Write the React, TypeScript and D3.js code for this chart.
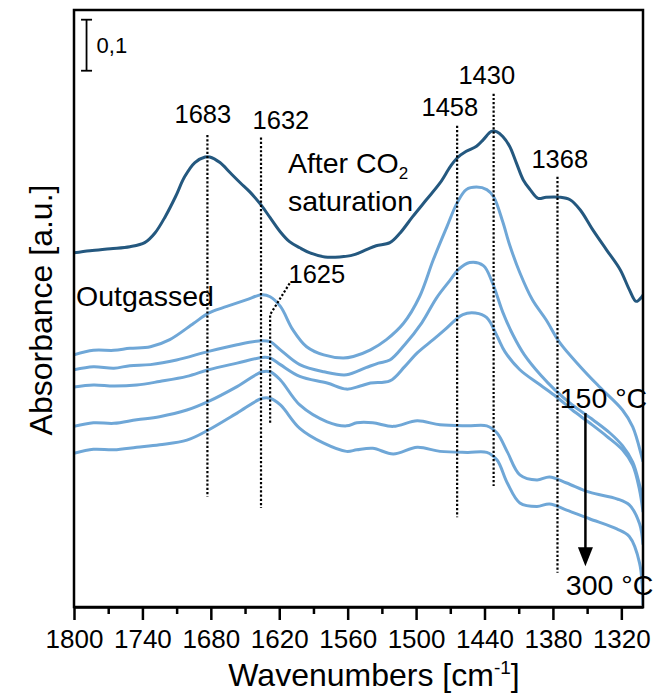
import React, { useEffect, useRef } from "react";
import * as d3 from "d3";

/* DATA: [wavenumber cm-1, absorbance a.u. (stacked offsets)] */
const afterCO2: [number, number][] = [
  [1800, 0.694], [1786, 0.698], [1768, 0.702], [1751, 0.706], [1738, 0.714], [1729, 0.733],
  [1720, 0.765], [1711, 0.804], [1703, 0.843], [1694, 0.871], [1685, 0.882], [1681, 0.882],
  [1672, 0.871], [1663, 0.851], [1654, 0.831], [1646, 0.814], [1636, 0.788], [1628, 0.763],
  [1619, 0.735], [1611, 0.716], [1602, 0.704], [1593, 0.694], [1580, 0.686], [1567, 0.686],
  [1555, 0.69], [1543, 0.701], [1535, 0.708], [1523, 0.714], [1514, 0.733], [1503, 0.765],
  [1491, 0.798], [1479, 0.831], [1470, 0.863], [1464, 0.88], [1456, 0.893], [1447, 0.903],
  [1441, 0.916], [1434, 0.932], [1429, 0.931], [1424, 0.922], [1418, 0.903], [1412, 0.87],
  [1406, 0.837], [1400, 0.818], [1393, 0.801], [1386, 0.803], [1374, 0.803], [1365, 0.798],
  [1356, 0.778], [1345, 0.739], [1333, 0.7], [1321, 0.661], [1313, 0.622], [1307, 0.599],
  [1302, 0.608], [1301, 0.612],
];

const outgassed: [number, number][] = [
  [1800, 0.494], [1783, 0.503], [1765, 0.503], [1751, 0.507], [1733, 0.51], [1716, 0.524],
  [1695, 0.556], [1682, 0.576], [1666, 0.589], [1649, 0.602], [1635, 0.612], [1628, 0.608],
  [1619, 0.589], [1608, 0.543], [1596, 0.51], [1581, 0.494], [1564, 0.488], [1555, 0.491],
  [1540, 0.504], [1526, 0.524], [1511, 0.556], [1497, 0.608], [1485, 0.68], [1473, 0.745],
  [1464, 0.792], [1456, 0.818], [1447, 0.823], [1438, 0.818], [1432, 0.804], [1424, 0.755],
  [1418, 0.71], [1409, 0.655], [1398, 0.602], [1386, 0.563], [1374, 0.518], [1356, 0.471],
  [1339, 0.431], [1319, 0.386], [1310, 0.353], [1302, 0.294], [1301, 0.285],
];

const t150: [number, number][] = [
  [1800, 0.465], [1783, 0.471], [1765, 0.468], [1751, 0.473], [1733, 0.475], [1710, 0.484],
  [1682, 0.501], [1657, 0.514], [1635, 0.522], [1628, 0.52], [1619, 0.504], [1602, 0.475],
  [1581, 0.461], [1561, 0.455], [1544, 0.469], [1533, 0.478], [1523, 0.484], [1510, 0.514],
  [1495, 0.557], [1482, 0.606], [1470, 0.641], [1463, 0.661], [1453, 0.675], [1441, 0.669],
  [1433, 0.635], [1424, 0.578], [1415, 0.533], [1405, 0.494], [1391, 0.455], [1378, 0.425],
  [1363, 0.396], [1345, 0.367], [1330, 0.341], [1319, 0.316], [1310, 0.284], [1304, 0.239],
  [1301, 0.21],
];

const t200: [number, number][] = [
  [1800, 0.431], [1783, 0.435], [1765, 0.433], [1745, 0.435], [1725, 0.442], [1701, 0.452],
  [1682, 0.465], [1657, 0.478], [1635, 0.489], [1628, 0.488], [1619, 0.475], [1602, 0.452],
  [1578, 0.439], [1561, 0.427], [1549, 0.433], [1540, 0.439], [1523, 0.443], [1510, 0.471],
  [1499, 0.498], [1485, 0.524], [1475, 0.543], [1459, 0.573], [1448, 0.576], [1438, 0.567],
  [1429, 0.531], [1422, 0.5], [1409, 0.465], [1391, 0.435], [1377, 0.412], [1363, 0.386],
  [1348, 0.361], [1333, 0.335], [1319, 0.308], [1310, 0.278], [1304, 0.229], [1301, 0.186],
];

const t250: [number, number][] = [
  [1800, 0.354], [1783, 0.361], [1765, 0.36], [1745, 0.367], [1725, 0.373], [1701, 0.386],
  [1682, 0.403], [1657, 0.432], [1635, 0.461], [1628, 0.461], [1619, 0.445], [1602, 0.396],
  [1578, 0.363], [1561, 0.355], [1552, 0.361], [1538, 0.361], [1520, 0.354], [1499, 0.365],
  [1479, 0.357], [1455, 0.355], [1438, 0.355], [1429, 0.341], [1420, 0.304], [1409, 0.259],
  [1394, 0.249], [1383, 0.255], [1368, 0.243], [1348, 0.225], [1324, 0.212], [1313, 0.2],
  [1304, 0.163], [1301, 0.122],
];

const t300: [number, number][] = [
  [1800, 0.301], [1783, 0.309], [1765, 0.308], [1745, 0.313], [1725, 0.318], [1701, 0.327],
  [1682, 0.347], [1657, 0.38], [1635, 0.409], [1628, 0.409], [1619, 0.396], [1602, 0.35],
  [1581, 0.321], [1561, 0.305], [1552, 0.308], [1538, 0.311], [1520, 0.3], [1499, 0.313],
  [1479, 0.305], [1455, 0.303], [1438, 0.303], [1429, 0.288], [1420, 0.243], [1409, 0.204],
  [1394, 0.197], [1383, 0.202], [1368, 0.19], [1348, 0.173], [1324, 0.153], [1313, 0.138],
  [1304, 0.086], [1301, 0.004],
];

const lightSeries = [outgassed, t150, t200, t250, t300];

const majorTicks = [1800, 1740, 1680, 1620, 1560, 1500, 1440, 1380, 1320];
const minorTicks = [1770, 1710, 1650, 1590, 1530, 1470, 1410, 1350];

/* band markers: label, line position, line top/bottom, label anchor */
const bandLabels = ["1683", "1632", "1458", "1430", "1368"];
const bandLineWn = [1683, 1636, 1464, 1432, 1376];
const bandLineTop = [0.925, 0.92, 0.943, 1.006, 0.843];
const bandLineBottom = [0.216, 0.194, 0.176, 0.237, 0.067];
const bandLabelWn = [1687, 1618.5, 1470.4, 1438, 1374];
const bandLabelAbs = [0.949, 0.937, 0.963, 1.025, 0.861];

// 1625 marker with bent leader
const leader1625: [number, number][] = [
  [1628, 0.361], [1628, 0.573], [1610.7, 0.635],
];

const FONT = "Arial, 'Liberation Sans', sans-serif";
const DARK = "#24587f";
const LIGHT = "#6fa7d7";

function SpectraChart() {
  const chartRef = useRef<SVGSVGElement>(null);

  useEffect(() => {
    const svg = d3.select(chartRef.current);
    svg.selectAll("*").remove();

    const x = d3.scaleLinear().domain([1800, 1301]).range([74, 643]);
    const y = d3.scaleLinear().domain([0, 1.17]).range([607, 10]);

    svg
      .append("defs")
      .append("clipPath")
      .attr("id", "plotClip")
      .append("rect")
      .attr("x", 74)
      .attr("y", 10)
      .attr("width", 569)
      .attr("height", 597);

    const line = d3
      .line<[number, number]>()
      .x((d) => x(d[0]))
      .y((d) => y(d[1]))
      .curve(d3.curveCatmullRom.alpha(0.5));

    const curves = svg.append("g").attr("clip-path", "url(#plotClip)");
    curves
      .selectAll("path.light")
      .data(lightSeries)
      .enter()
      .append("path")
      .attr("class", "light")
      .attr("d", (d) => line(d))
      .attr("fill", "none")
      .attr("stroke", LIGHT)
      .attr("stroke-width", 3);

    curves
      .append("path")
      .attr("d", line(afterCO2))
      .attr("fill", "none")
      .attr("stroke", DARK)
      .attr("stroke-width", 3);

    // dotted band markers
    const marks = svg.append("g");
    bandLineWn.forEach((wn, i) => {
      marks
        .append("line")
        .attr("x1", x(wn))
        .attr("x2", x(wn))
        .attr("y1", y(bandLineTop[i]))
        .attr("y2", y(bandLineBottom[i]))
        .attr("stroke", "#000")
        .attr("stroke-width", 2.2)
        .attr("stroke-dasharray", "2.2 2");
      marks
        .append("text")
        .attr("x", x(bandLabelWn[i]))
        .attr("y", y(bandLabelAbs[i]))
        .attr("text-anchor", "middle")
        .attr("font-family", FONT)
        .attr("font-size", 25.5)
        .text(bandLabels[i]);
    });

    marks
      .append("path")
      .attr("d", d3.line<[number, number]>().x((d) => x(d[0])).y((d) => y(d[1]))(leader1625))
      .attr("fill", "none")
      .attr("stroke", "#000")
      .attr("stroke-width", 2.2)
      .attr("stroke-dasharray", "2.2 2");
    marks
      .append("text")
      .attr("x", x(1587))
      .attr("y", y(0.635))
      .attr("text-anchor", "middle")
      .attr("font-family", FONT)
      .attr("font-size", 25.5)
      .text("1625");

    // text annotations
    const t1 = marks
      .append("text")
      .attr("x", x(1612.4))
      .attr("y", y(0.851))
      .attr("font-family", FONT)
      .attr("font-size", 28.5);
    t1.append("tspan").text("After CO");
    t1.append("tspan").attr("font-size", 17).attr("dy", 6).text("2");
    marks
      .append("text")
      .attr("x", x(1612.4))
      .attr("y", y(0.776))
      .attr("font-family", FONT)
      .attr("font-size", 28.5)
      .text("saturation");
    marks
      .append("text")
      .attr("x", x(1798.2))
      .attr("y", y(0.59))
      .attr("font-family", FONT)
      .attr("font-size", 28.5)
      .text("Outgassed");
    marks
      .append("text")
      .attr("x", x(1374))
      .attr("y", y(0.39))
      .attr("font-family", FONT)
      .attr("font-size", 28.5)
      .text("150 °C");
    marks
      .append("text")
      .attr("x", x(1368.7))
      .attr("y", y(0.0235))
      .attr("font-family", FONT)
      .attr("font-size", 28.5)
      .text("300 °C");

    // temperature arrow
    const ax = x(1351.5);
    const aTop = y(0.38);
    const aTip = y(0.08);
    marks
      .append("line")
      .attr("x1", ax)
      .attr("x2", ax)
      .attr("y1", aTop)
      .attr("y2", aTip - 14)
      .attr("stroke", "#000")
      .attr("stroke-width", 2.5);
    marks
      .append("path")
      .attr("d", `M${ax - 7.5},${aTip - 19} L${ax + 7.5},${aTip - 19} L${ax},${aTip} Z`)
      .attr("fill", "#000");

    // scale bar 0,1
    const sx = x(1789);
    const sTop = y(1.151);
    const sBot = y(1.151 - 0.1);
    const bar = svg.append("g").attr("stroke", "#000").attr("stroke-width", 1.8);
    bar.append("line").attr("x1", sx).attr("x2", sx).attr("y1", sTop).attr("y2", sBot);
    bar.append("line").attr("x1", sx - 5.5).attr("x2", sx + 5.5).attr("y1", sTop).attr("y2", sTop);
    bar.append("line").attr("x1", sx - 5.5).attr("x2", sx + 5.5).attr("y1", sBot).attr("y2", sBot);
    svg
      .append("text")
      .attr("x", sx + 10)
      .attr("y", (sTop + sBot) / 2 + 8)
      .attr("font-family", FONT)
      .attr("font-size", 22)
      .text("0,1");

    // x axis
    const xAxis = svg
      .append("g")
      .attr("transform", "translate(0,607)")
      .call(
        d3
          .axisBottom(x)
          .tickValues(majorTicks)
          .tickSize(13)
          .tickSizeOuter(0)
          .tickPadding(10)
          .tickFormat(d3.format("d"))
      );
    xAxis.selectAll("path, line").attr("stroke", "#000").attr("stroke-width", 2.5);
    xAxis
      .selectAll("text")
      .attr("font-family", FONT)
      .attr("font-size", 26)
      .attr("fill", "#000");

    const minorAxis = svg
      .append("g")
      .attr("transform", "translate(0,607)")
      .call(d3.axisBottom(x).tickValues(minorTicks).tickSize(7).tickSizeOuter(0).tickFormat(() => ""));
    minorAxis.select(".domain").remove();
    minorAxis.selectAll("line").attr("stroke", "#000").attr("stroke-width", 2.5);

    // frame
    svg
      .append("rect")
      .attr("x", 74)
      .attr("y", 10)
      .attr("width", 569)
      .attr("height", 597)
      .attr("fill", "none")
      .attr("stroke", "#000")
      .attr("stroke-width", 2.5);

    // axis titles
    const xt = svg
      .append("text")
      .attr("x", 374)
      .attr("y", 686)
      .attr("text-anchor", "middle")
      .attr("font-family", FONT)
      .attr("font-size", 32);
    xt.append("tspan").text("Wavenumbers [cm");
    xt.append("tspan").attr("font-size", 19).attr("dy", -12).text("-1");
    xt.append("tspan").attr("dy", 12).text("]");

    svg
      .append("text")
      .attr("transform", "translate(41,310) rotate(-90)")
      .attr("text-anchor", "middle")
      .attr("dominant-baseline", "central")
      .attr("font-family", FONT)
      .attr("font-size", 32)
      .text("Absorbance [a.u.]");
  }, []);

  return (
    <svg
      ref={chartRef}
      width={654}
      height={694}
      style={{ position: "absolute", left: 0, top: 0, background: "#fff" }}
    />
  );
}

export default function App() {
  return <SpectraChart />;
}
